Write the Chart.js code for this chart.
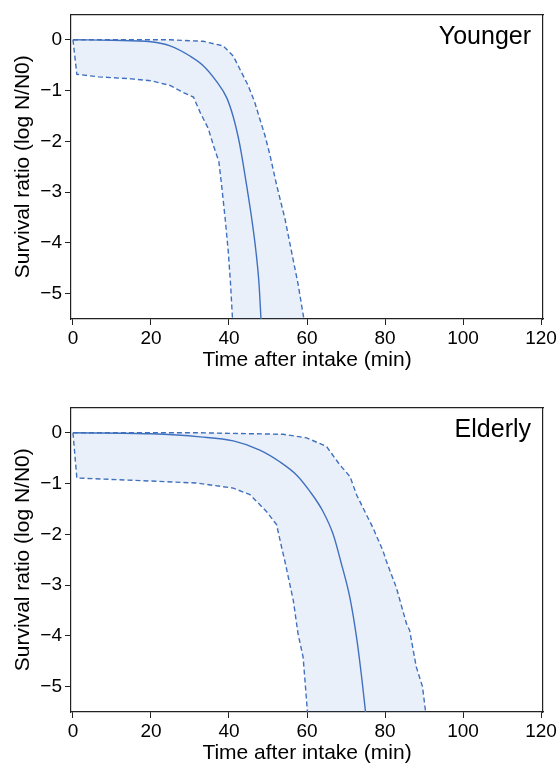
<!DOCTYPE html>
<html>
<head>
<meta charset="utf-8">
<script src="https://cdn.jsdelivr.net/npm/chart.js@4"></script>
<style>
  html, body { margin: 0; padding: 0; background: #fff; }
  body { width: 559px; height: 764px; position: relative; overflow: hidden; }
  canvas { position: absolute; left: 0; }
  #c1 { top: 0; }
  #c2 { top: 393px; }
</style>
</head>
<body>
<canvas id="c1" width="559" height="371"></canvas>
<canvas id="c2" width="559" height="371"></canvas>
<script>
// ---------- data ----------
const panelNames = ["Younger", "Elderly"];
const xTicks = [0, 20, 40, 60, 80, 100, 120];
const yTicks = [-5, -4, -3, -2, -1, 0];
const xTitle = "Time after intake (min)";
const yTitle = "Survival ratio (log N/N0)";

// Younger
const youngerMidX   = [0, 10, 20, 24.9, 30.0, 33.4, 36.8, 39.4, 41.1, 42.4, 43.2, 44.5, 45.8, 46.9, 47.7, 48.2];
const youngerMidY   = [0, -0.01, -0.04, -0.12, -0.32, -0.51, -0.82, -1.14, -1.52, -1.93, -2.25, -2.86, -3.51, -4.16, -4.81, -5.5];
const youngerLowX   = [0, 1.0, 6.6, 15.1, 20.2, 24.9, 28.3, 30.9, 32.6, 34.7, 36.0, 37.4, 38.1, 39.0, 39.8, 40.4, 40.9];
const youngerLowY   = [0, -0.68, -0.73, -0.77, -0.81, -0.9, -1.04, -1.13, -1.43, -1.75, -2.08, -2.4, -2.86, -3.51, -4.16, -4.81, -5.5];
const youngerHighX  = [0, 24.9, 33.4, 38.5, 41.1, 42.8, 44.9, 46.6, 47.9, 49.2, 50.5, 52.2, 54.3, 56.0, 57.7, 59.2];
const youngerHighY  = [0, 0, -0.03, -0.12, -0.32, -0.58, -0.9, -1.23, -1.56, -1.88, -2.27, -2.86, -3.51, -4.16, -4.81, -5.5];

// Elderly
const elderlyMidX   = [0, 20, 32.6, 41.1, 47.9, 53.0, 57.3, 60.7, 64.1, 66.7, 68.6, 71.0, 72.7, 74.0, 75.0];
const elderlyMidY   = [0, -0.02, -0.08, -0.16, -0.34, -0.57, -0.83, -1.15, -1.55, -2.0, -2.52, -3.25, -4.03, -4.81, -5.5];
const elderlyLowX   = [0, 1.0, 7, 19.8, 31.7, 41.1, 45.4, 49.6, 52.2, 53.5, 54.3, 56.5, 57.7, 59.0, 59.6, 60.1];
const elderlyLowY   = [0, -0.89, -0.91, -0.95, -0.99, -1.09, -1.22, -1.55, -1.81, -2.26, -2.52, -3.31, -3.96, -4.42, -5.0, -5.5];
const elderlyHighX  = [0, 32.6, 53.9, 59.9, 65.0, 68.4, 71.0, 72.7, 75.2, 76.9, 79.5, 80.3, 82.9, 85.5, 86.3, 88.0, 89.6, 90.4];
const elderlyHighY  = [0, 0, -0.03, -0.10, -0.27, -0.63, -0.86, -1.22, -1.61, -1.87, -2.33, -2.52, -3.05, -3.76, -3.89, -4.61, -5.0, -5.5];

// ---------- styling ----------
const LINE = '#4070bf';
const FILL = 'rgba(68,114,196,0.11)';
const AXIS = '#222';
const FONT = '"Liberation Sans", Arial, Helvetica, sans-serif';

Chart.defaults.font.family = FONT;
Chart.defaults.color = '#000';

const pts = (xs, ys) => xs.map((x, i) => ({ x: x, y: ys[i] }));

const panelLabel = {
  id: 'panelLabel',
  afterDatasetsDraw(chart, args, opts) {
    const { ctx, chartArea } = chart;
    ctx.save();
    ctx.font = '25px ' + FONT;
    ctx.fillStyle = '#000';
    ctx.textAlign = 'right';
    ctx.textBaseline = 'alphabetic';
    ctx.fillText(opts.text, chartArea.right - 12, chartArea.top + 30);
    ctx.restore();
  }
};

function makeChart(id, name, midX, midY, lowX, lowY, highX, highY) {
  const band = pts(highX, highY).concat(pts(lowX, lowY).reverse());
  const tickSetter = arr => scale => { scale.ticks = arr.map(v => ({ value: v })); };
  return new Chart(document.getElementById(id), {
    type: 'line',
    data: {
      datasets: [
        { data: band, borderWidth: 0, borderColor: 'rgba(0,0,0,0)', backgroundColor: FILL, fill: 'shape', pointRadius: 0, tension: 0 },
        { data: pts(lowX, lowY), borderColor: LINE, borderWidth: 1.4, borderDash: [5, 3], fill: false, pointRadius: 0, tension: 0 },
        { data: pts(highX, highY), borderColor: LINE, borderWidth: 1.4, borderDash: [5, 3], fill: false, pointRadius: 0, tension: 0 },
        { data: pts(midX, midY), borderColor: LINE, borderWidth: 1.4, fill: false, pointRadius: 0, cubicInterpolationMode: 'monotone' }
      ]
    },
    options: {
      responsive: false,
      animation: false,
      devicePixelRatio: 1,
      layout: { padding: { top: 12, right: 15, left: 0, bottom: 0 } },
      plugins: {
        legend: { display: false },
        tooltip: { enabled: false },
        panelLabel: { text: name }
      },
      scales: {
        x: {
          type: 'linear', position: 'bottom', min: -0.5, max: 120.5,
          afterBuildTicks: tickSetter(xTicks),
          afterFit: s => { s.height = 52; },
          ticks: { font: { size: 19 }, color: '#000', padding: 2, maxRotation: 0, autoSkip: false },
          grid: { display: true, drawOnChartArea: false, drawTicks: true, tickLength: 6, color: AXIS, lineWidth: 1 },
          border: { display: true, color: AXIS, width: 1.2 },
          title: { display: true, text: xTitle, font: { size: 21, lineHeight: 1.0 }, color: '#000', padding: { top: 0, bottom: 0 } }
        },
        y: {
          type: 'linear', position: 'left', min: -5.5, max: 0.5,
          afterBuildTicks: tickSetter(yTicks),
          afterFit: s => { s.width = 71; },
          ticks: { font: { size: 19 }, color: '#000', padding: 3, autoSkip: false,
                   callback: v => (v < 0 ? '\u2212' + Math.abs(v) : String(v)) },
          grid: { display: true, drawOnChartArea: false, drawTicks: true, tickLength: 6, color: AXIS, lineWidth: 1 },
          border: { display: true, color: AXIS, width: 1.2 },
          title: { display: true, text: yTitle, font: { size: 21, lineHeight: 1.0 }, color: '#000', padding: { top: 13, bottom: 0 } }
        },
        x2: {
          type: 'linear', position: 'top', min: -0.5, max: 120.5,
          afterFit: s => { s.height = 0; },
          ticks: { display: false },
          grid: { display: false },
          border: { display: true, color: AXIS, width: 1.2 }
        },
        y2: {
          type: 'linear', position: 'right', min: -5.5, max: 0.5,
          afterFit: s => { s.width = 0; },
          ticks: { display: false },
          grid: { display: false },
          border: { display: true, color: AXIS, width: 1.2 }
        }
      }
    },
    plugins: [panelLabel]
  });
}

makeChart('c1', panelNames[0], youngerMidX, youngerMidY, youngerLowX, youngerLowY, youngerHighX, youngerHighY);
makeChart('c2', panelNames[1], elderlyMidX, elderlyMidY, elderlyLowX, elderlyLowY, elderlyHighX, elderlyHighY);
</script>
</body>
</html>
